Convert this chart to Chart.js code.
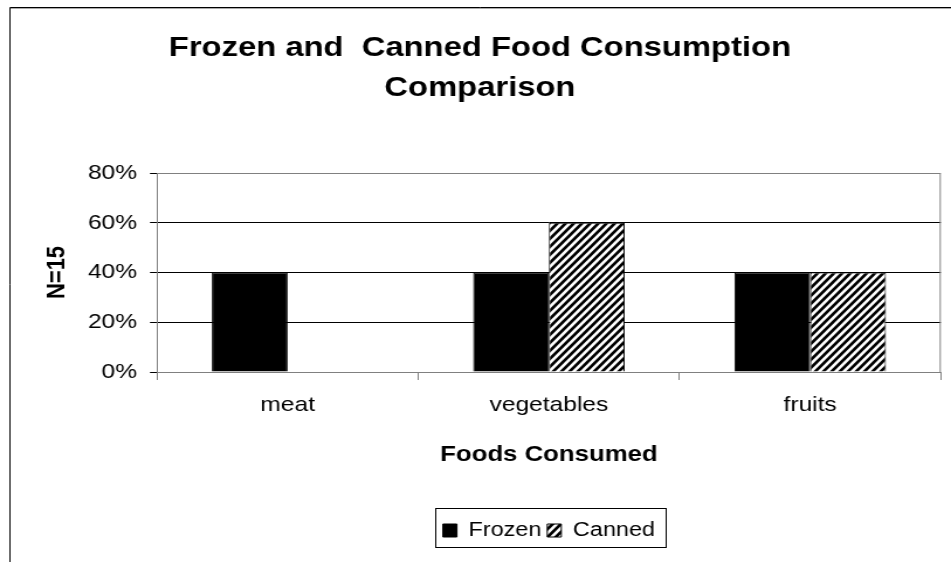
<!DOCTYPE html>
<html>
<head>
<meta charset="utf-8">
<title>Frozen and Canned Food Consumption Comparison</title>
<script src="https://cdn.jsdelivr.net/npm/chart.js@4"></script>
<style>
  html, body { margin: 0; padding: 0; background: #fff; overflow: hidden; }
</style>
</head>
<body>
<!-- drawn at 813px wide and stretched to 951px, like the old spreadsheet export -->
<canvas id="grafico" width="813" height="562" style="width:951px;height:562px;display:block"></canvas>
<script>
const categories = ['meat', 'vegetables', 'fruits'];
const frozen = [40, 40, 40];
const canned = [0, 60, 40];
const yTicks = [0, 20, 40, 60, 80];

Chart.defaults.font.family = 'Arial, "Liberation Sans", sans-serif';
Chart.defaults.color = '#000';

const ctx = document.getElementById('grafico').getContext('2d');

// diagonal "/" hatching for the canned bars
function makeHatch() {
    const w = 7, h = 8;
    const tile = document.createElement('canvas');
    tile.width = w;
    tile.height = h;
    const g = tile.getContext('2d');
    g.fillStyle = '#fff';
    g.fillRect(0, 0, w, h);
    g.strokeStyle = '#000';
    g.lineWidth = 2.7;
    g.beginPath();
    g.moveTo(-w, h); g.lineTo(w, -h);
    g.moveTo(0, h); g.lineTo(w, 0);
    g.moveTo(0, 2 * h); g.lineTo(2 * w, 0);
    g.stroke();
    return ctx.createPattern(tile, 'repeat');
}

const frame = {
    id: 'frame',
    beforeDraw(chart) {
        const c = chart.ctx;
        c.save();
        c.fillStyle = '#fff';
        c.fillRect(0, 0, chart.width, chart.height);
        c.strokeStyle = '#000';
        c.lineWidth = 1;
        c.beginPath();
        c.moveTo(8.5, chart.height);
        c.lineTo(8.5, 7.5);
        c.lineTo(chart.width, 7.5);
        c.stroke();
        c.strokeStyle = '#aaa';
        c.beginPath();
        c.moveTo(9, 8.5);
        c.lineTo(chart.width, 8.5);
        c.stroke();
        c.restore();
    },
    beforeDatasetsDraw(chart) {
        const a = chart.chartArea;
        const c = chart.ctx;
        c.save();
        c.strokeStyle = '#808080';
        c.lineWidth = 1;
        c.beginPath();
        c.moveTo(a.right - 0.5, a.bottom);
        c.lineTo(a.right - 0.5, a.top + 0.5);
        c.lineTo(a.left, a.top + 0.5);
        c.stroke();
        c.restore();
    },
    afterDraw(chart) {
        // box round the legend
        const boxes = chart.legend.legendHitBoxes;
        if (!boxes || !boxes.length) return;
        const first = boxes[0];
        const last = boxes[boxes.length - 1];
        const mid = first.top + first.height / 2;
        const c = chart.ctx;
        c.save();
        c.strokeStyle = '#000';
        c.lineWidth = 1;
        const left = Math.round(first.left - 7) + 0.5;
        const right = Math.round(last.left + last.width + 9) + 0.5;
        const top = Math.round(mid - 22.5) + 0.5;
        const bottom = Math.round(mid + 16.5) + 0.5;
        c.strokeRect(left, top, right - left, bottom - top);
        c.restore();
    }
};

const grafico = new Chart(ctx, {
    type: 'bar',
    data: {
        labels: categories,
        datasets: [{
            label: 'Frozen',
            data: frozen,
            backgroundColor: '#000',
            borderColor: '#000',
            borderWidth: 1
        }, {
            label: 'Canned',
            data: canned,
            backgroundColor: makeHatch(),
            borderColor: '#000',
            borderWidth: 1
        }]
    },
    options: {
        responsive: false,
        animation: false,
        devicePixelRatio: 1,
        categoryPercentage: 0.58,
        barPercentage: 1,
        layout: {
            padding: { left: 16.3, top: 0, right: 8.7, bottom: 11.5 }
        },
        plugins: {
            title: {
                display: true,
                text: ['Frozen and  Canned Food Consumption', 'Comparison'],
                font: { size: 28, weight: 'bold', lineHeight: 40 / 28 },
                color: '#000',
                padding: { top: 28, bottom: 65 }
            },
            legend: {
                position: 'bottom',
                fullSize: false,
                labels: {
                    boxWidth: 12,
                    boxHeight: 13,
                    padding: 5,
                    color: '#000',
                    font: { size: 20 }
                }
            },
            tooltip: { enabled: false }
        },
        scales: {
            x: {
                grid: {
                    offset: true,
                    drawOnChartArea: false,
                    color: '#808080',
                    tickLength: 8
                },
                border: { color: '#808080' },
                ticks: { font: { size: 21 }, color: '#000', padding: 13, maxRotation: 0 },
                title: {
                    display: true,
                    text: 'Foods Consumed',
                    font: { size: 22, weight: 'bold' },
                    color: '#000',
                    padding: { top: 0, bottom: 47 }
                },
                afterFit(scale) { scale.height = 143.5; }
            },
            y: {
                min: 0,
                max: 80,
                afterBuildTicks(scale) {
                    scale.ticks = yTicks.map(v => ({ value: v }));
                },
                grid: {
                    color: c => (c.tick && c.tick.value === 80 ? '#808080' : '#000'),
                    tickColor: '#000',
                    tickLength: 6
                },
                border: { color: '#808080' },
                ticks: {
                    font: { size: 21 },
                    color: '#000',
                    padding: 11,
                    callback: v => v + '%'
                },
                title: {
                    display: true,
                    text: 'N=15',
                    font: { size: 22, weight: 'bold' },
                    color: '#000',
                    padding: { top: 19, bottom: 0 }
                },
                afterFit(scale) { scale.width = 117.9; }
            }
        }
    },
    plugins: [frame]
});
</script>
</body>
</html>
